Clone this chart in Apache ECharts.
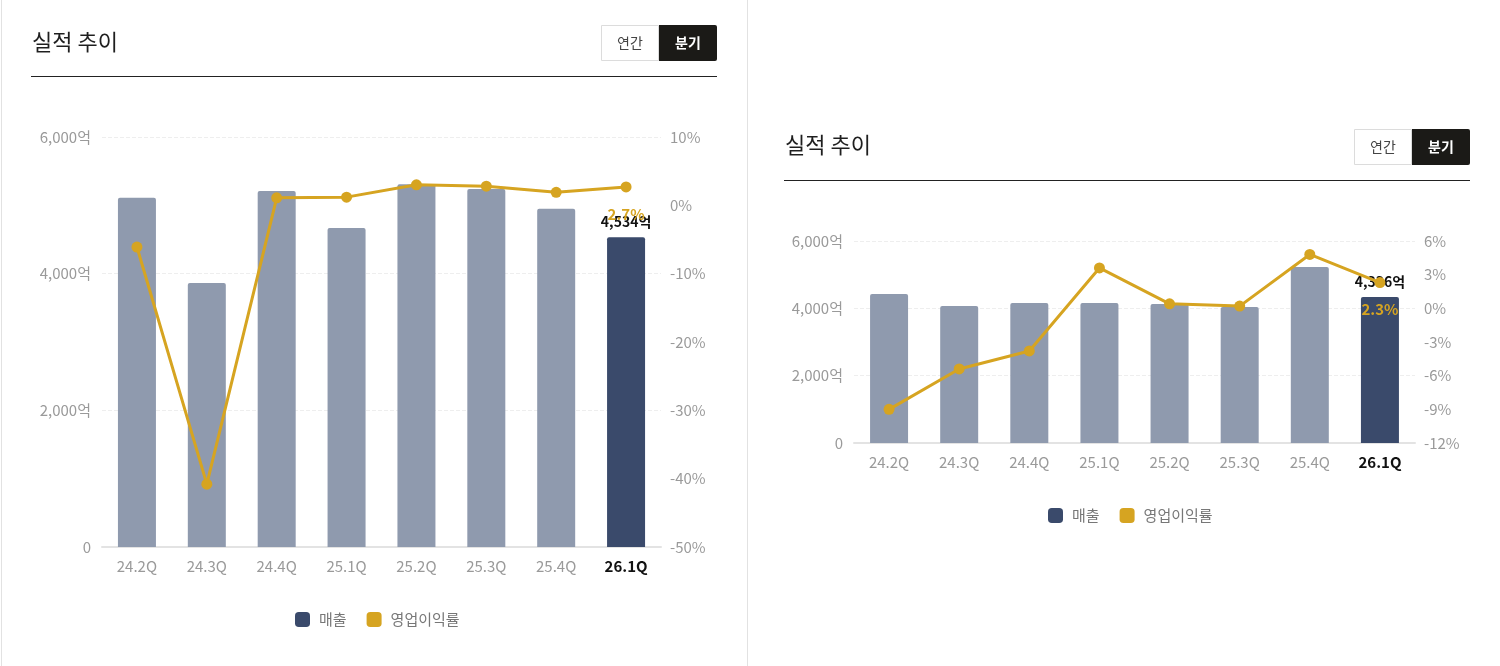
<!DOCTYPE html>
<html><head><meta charset="utf-8">
<script src="https://cdn.jsdelivr.net/npm/echarts@6/dist/echarts.min.js"></script>
<style>html,body{margin:0;padding:0;background:#fff}#c{width:1500px;height:666px}</style>
</head><body><div id="c"></div>
<script>
const categories = ['24.2Q','24.3Q','24.4Q','25.1Q','25.2Q','25.3Q','25.4Q','26.1Q'];
const leftRevenue = [5110, 3865, 5210, 4670, 5310, 5240, 4950, 4534];
const leftMargin = [-6.1, -40.8, 1.1, 1.2, 3.0, 2.8, 1.9, 2.7];
const rightRevenue = [4425, 4070, 4160, 4160, 4130, 4040, 5230, 4336];
const rightMargin = [-9.0, -5.4, -3.8, 3.6, 0.4, 0.2, 4.8, 2.3];
const seriesNames = ['매출', '영업이익률'];
const title = '실적 추이';
const btnLabels = ['연간', '분기'];

const FONT = '"Noto Sans CJK KR", "Noto Sans", sans-serif';
const NAVY = '#3a4a6b', GREY = '#8f9aae', GOLD = '#d6a421', AXIS = '#9a9a9a';
const last = categories.length - 1;
const fmtWon = v => v === 0 ? '0' : v.toLocaleString('en-US') + '억';

function barData(arr) {
  return arr.map((v, i) => i === last
    ? {value: v, itemStyle: {color: NAVY},
       label: {show: true, position: 'top', distance: 8, formatter: p => p.value.toLocaleString('en-US') + '억',
               color: '#111', fontWeight: 'bold', fontSize: 14, fontFamily: FONT}}
    : {value: v, itemStyle: {color: GREY}});
}
function lineData(arr) {
  return arr.map((v, i) => i === last
    ? {value: v, label: {show: true, position: 'bottom', distance: 14, formatter: p => p.value + '%',
               color: GOLD, fontWeight: 'bold', fontSize: 15, fontFamily: FONT}}
    : v);
}
function header(x0, x1, yTitle, yBtnTop, yLine) {
  return [
    {type: 'text', left: x0 + 1, top: yTitle - 13, style: {text: title, font: '22px ' + FONT, fill: '#1f1f1f'}},
    {type: 'rect', shape: {x: x1 - 115.5, y: yBtnTop + 0.5, width: 57, height: 35}, style: {fill: '#fff', stroke: '#dcdcdc', lineWidth: 1}},
    {type: 'rect', shape: {x: x1 - 58, y: yBtnTop, width: 58, height: 36, r: [0, 2, 2, 0]}, style: {fill: '#1b1a17'}},
    {type: 'text', x: x1 - 87, y: yBtnTop + 18, style: {text: btnLabels[0], font: '14px ' + FONT, fill: '#444', align: 'center', verticalAlign: 'middle'}},
    {type: 'text', x: x1 - 29, y: yBtnTop + 18, style: {text: btnLabels[1], font: 'bold 14px ' + FONT, fill: '#fff', align: 'center', verticalAlign: 'middle'}},
    {type: 'line', shape: {x1: x0, y1: yLine, x2: x1, y2: yLine}, style: {stroke: '#222', lineWidth: 1}}
  ];
}
function xAxis(gi) {
  return {type: 'category', gridIndex: gi, data: categories,
    axisLine: {lineStyle: {color: '#e3e3e3', width: 2}}, axisTick: {show: false},
    axisLabel: {interval: 0, margin: 12, fontSize: 15, color: AXIS, fontFamily: FONT,
      formatter: (v, i) => i === last ? '{b|' + v + '}' : v,
      rich: {b: {fontWeight: 'bold', color: '#111', fontSize: 15, fontFamily: FONT}}}};
}
function yLeft(gi) {
  return {type: 'value', gridIndex: gi, min: 0, max: 6000, interval: 2000,
    axisLabel: {formatter: fmtWon, fontSize: 15, color: AXIS, fontFamily: FONT, margin: 11},
    splitLine: {lineStyle: {type: 'dashed', color: '#eeeeee'}}, axisLine: {show: false}, axisTick: {show: false}};
}
function yRight(gi, min, max, interval) {
  return {type: 'value', gridIndex: gi, min, max, interval, position: 'right',
    axisLabel: {formatter: v => v + '%', fontSize: 15, color: AXIS, fontFamily: FONT, margin: 9},
    splitLine: {show: false}, axisLine: {show: false}, axisTick: {show: false}};
}
function legend(left, top) {
  return {data: seriesNames, left, top, icon: 'roundRect', itemWidth: 15, itemHeight: 15, itemGap: 20,
    textStyle: {fontSize: 15, color: '#777', fontFamily: FONT, padding: [0, 0, 0, 4]}, selectedMode: false};
}

const chart = echarts.init(document.getElementById('c'), null, {renderer: 'canvas'});
chart.setOption({
  animation: false,
  backgroundColor: '#fff',
  textStyle: {fontFamily: FONT},
  graphic: [
    {type: 'line', shape: {x1: 747.5, y1: 0, x2: 747.5, y2: 666}, style: {stroke: '#e2e2e2', lineWidth: 1}},
    {type: 'line', shape: {x1: 1.5, y1: 0, x2: 1.5, y2: 666}, style: {stroke: '#e2e2e2', lineWidth: 1}},
    ...header(31, 717, 44, 25, 76.5),
    ...header(784, 1470, 147, 129, 180.5)
  ],
  legend: [legend(290, 607), legend(1043, 503)],
  grid: [
    {left: 102, right: 1500 - 661, top: 137, bottom: 666 - 547},
    {left: 854, right: 1500 - 1415, top: 241, bottom: 666 - 443}
  ],
  xAxis: [xAxis(0), xAxis(1)],
  yAxis: [yLeft(0), yRight(0, -50, 10, 10), yLeft(1), yRight(1, -12, 6, 3)],
  series: [
    {name: seriesNames[0], type: 'bar', xAxisIndex: 0, yAxisIndex: 0, barWidth: 38, itemStyle: {color: NAVY, borderRadius: [2, 2, 0, 0]}, data: barData(leftRevenue), z: 2},
    {name: seriesNames[1], type: 'line', xAxisIndex: 0, yAxisIndex: 1, symbol: 'circle', symbolSize: 11, color: GOLD,
     lineStyle: {width: 3, color: GOLD}, itemStyle: {color: GOLD}, data: lineData(leftMargin), z: 3},
    {name: seriesNames[0], type: 'bar', xAxisIndex: 1, yAxisIndex: 2, barWidth: 38, itemStyle: {color: NAVY, borderRadius: [2, 2, 0, 0]}, data: barData(rightRevenue), z: 2},
    {name: seriesNames[1], type: 'line', xAxisIndex: 1, yAxisIndex: 3, symbol: 'circle', symbolSize: 11, color: GOLD,
     lineStyle: {width: 3, color: GOLD}, itemStyle: {color: GOLD}, data: lineData(rightMargin), z: 3}
  ]
});
</script></body></html>
